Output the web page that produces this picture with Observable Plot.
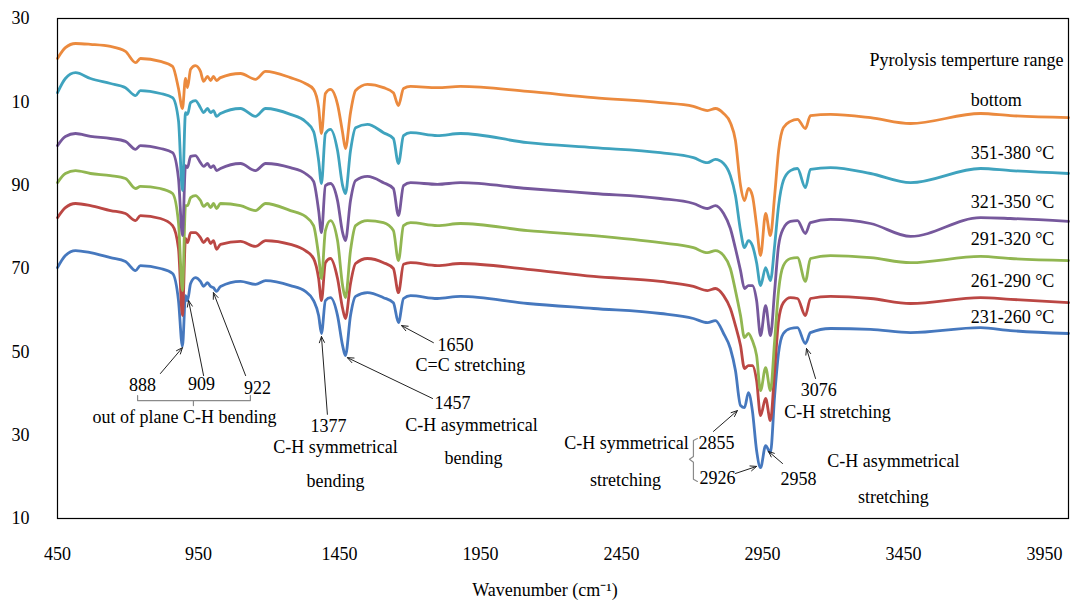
<!DOCTYPE html>
<html><head><meta charset="utf-8">
<script src="https://cdn.jsdelivr.net/npm/d3@7"></script>
<script src="https://cdn.jsdelivr.net/npm/@observablehq/plot@0.6"></script>
<style>body{margin:0;background:#fff;}</style>
</head><body><div id="chart"></div>
<script>
// Wavenumber grid (cm-1) shared by all spectra
const wavenumber = [450,478,514,567,638,691,727,744,815,858,
  879,893,904,911,922,939,957,968,982,993,
  1003,1014,1028,1099,1152,1188,1276,1329,1358,1376,
  1386,1400,1418,1443,1461,1471,1489,1507,1549,1606,
  1641,1659,1677,1702,1797,1879,2117,2351,2588,2705,
  2755,2783,2812,2836,2854,2872,2886,2900,2914,2929,
  2943,2961,2978,2993,3007,3024,3049,3074,3102,3120,
  3191,3333,3475,3723,3829,4035];

const spectrumBottom = [120.4,123.0,124.0,123.8,123.3,122.1,119.4,120.4,119.7,118.5,
  113.2,108.4,115.6,113.4,117.8,118.7,117.3,114.9,116.1,115.1,
  116.1,115.1,115.8,116.8,115.4,117.3,115.8,114.4,113.0,108.6,
  102.4,112.0,113.0,109.4,102.6,98.8,107.4,112.7,114.2,113.4,
  112.2,109.1,113.2,113.7,113.4,113.7,112.5,111.0,109.8,108.9,
  107.9,108.4,107.2,105.0,100.7,89.9,86.3,89.2,87.5,80.3,
  73.1,83.2,77.9,87.5,98.3,103.8,105.3,105.8,103.6,106.7,
  107.0,106.2,104.8,107.2,106.7,106.2];

const spectrum351_380 = [112.2,115.6,117.0,115.6,114.4,113.4,111.5,112.7,112.0,111.0,
  105.5,88.7,107.4,107.0,109.8,110.3,108.6,107.4,108.4,107.4,
  107.9,106.5,107.2,108.4,106.5,108.4,107.0,105.3,102.9,95.9,
  90.4,102.4,103.4,98.3,89.9,88.0,98.3,103.8,104.6,102.6,
  101.2,95.2,101.9,102.6,101.9,102.4,100.2,99.0,97.8,96.6,
  95.4,96.2,95.2,92.3,87.5,79.1,75.0,76.7,75.5,71.4,
  65.9,70.2,67.1,75.5,85.1,91.1,93.5,94.0,89.4,93.8,
  94.2,92.8,90.6,94.0,93.5,92.8];

const spectrum321_350 = [99.5,101.7,102.4,101.7,101.2,100.5,98.6,99.5,98.8,97.8,
  91.6,77.9,94.7,94.2,96.9,97.1,95.4,94.5,95.2,94.2,
  94.7,93.5,94.0,95.2,93.5,95.2,94.2,92.8,90.9,83.9,
  78.6,89.9,90.4,86.3,78.6,76.7,86.3,91.1,92.1,90.6,
  89.2,82.7,89.9,90.6,90.2,90.6,89.2,88.0,86.8,85.6,
  84.4,85.1,83.2,79.6,74.8,69.5,65.2,65.9,65.9,62.3,
  53.9,61.1,53.9,64.7,75.5,79.6,81.3,81.5,78.4,81.0,
  81.8,80.8,77.7,82.2,82.0,81.3];

const spectrum291_320 = [90.6,92.8,93.5,92.8,92.3,91.6,89.2,89.7,89.2,88.0,
  81.0,64.7,85.1,85.1,87.0,87.5,86.3,84.9,85.6,84.6,
  85.6,84.4,85.6,85.1,83.9,85.6,83.9,82.5,80.3,73.1,
  67.6,79.1,81.5,76.7,65.9,63.0,74.3,80.3,81.5,81.0,
  79.1,71.9,80.3,81.0,80.3,80.8,79.1,77.9,76.2,75.0,
  73.8,74.3,73.1,70.0,64.7,58.7,53.4,54.4,52.7,49.1,
  40.7,46.2,40.7,52.7,64.7,70.7,72.4,72.6,66.9,72.4,
  73.1,72.6,71.4,72.9,72.4,71.9];

const spectrum261_290 = [82.2,84.6,85.6,85.1,83.9,83.2,81.5,82.7,82.0,80.3,
  74.8,58.7,77.2,76.2,78.6,78.6,77.4,76.2,77.2,76.0,
  76.7,74.6,75.8,76.5,75.3,76.7,75.8,74.3,72.4,67.6,
  62.3,71.4,72.4,67.6,60.4,58.0,66.4,71.2,72.4,71.4,
  70.0,64.2,71.0,71.4,70.7,71.2,69.8,68.1,66.9,65.7,
  64.7,65.2,63.5,60.4,56.3,51.5,46.0,46.7,46.7,43.1,
  34.7,38.8,33.5,45.5,57.5,61.8,63.0,62.8,58.7,62.8,
  63.3,62.8,61.6,63.0,62.6,61.8];

const spectrum231_260 = [70.2,73.1,74.3,73.8,72.6,71.7,69.5,70.7,70.0,68.8,
  62.3,51.3,63.5,62.3,66.4,67.8,66.9,65.7,66.6,65.7,
  65.4,64.5,65.7,66.9,66.2,67.1,65.9,64.5,62.3,58.7,
  54.4,62.3,63.0,58.7,51.5,49.1,58.7,63.3,64.2,63.0,
  61.8,57.0,62.8,63.5,62.8,63.3,61.6,60.4,59.2,58.0,
  57.0,57.5,54.4,50.8,45.5,37.1,36.6,40.2,35.9,26.3,
  22.2,27.5,25.8,39.5,49.8,54.4,55.6,55.8,52.0,54.6,
  55.6,55.4,54.6,55.8,55.1,54.4];

// drawn bottom series first so upper spectra sit on top
const seriesNames = ["231-260 °C","261-290 °C","291-320 °C","321-350 °C","351-380 °C","bottom"];
const seriesValues = [spectrum231_260, spectrum261_290, spectrum291_320, spectrum321_350, spectrum351_380, spectrumBottom];
const seriesColors = ["#4678BE","#BB4744","#91B651","#76589C","#3FA3BE","#EB8A3E"];

const xTicks = [450,950,1450,1950,2450,2950,3450,3950];
const yTicks = [10,30,50,70,90,110,130];
const yTickLabels = ["10","30","50","70","90","10","30"];

// legend texts (right side)
const legendTitle = "Pyrolysis temperture range";
const legendLabels = ["bottom","351-380 °C","321-350 °C","291-320 °C","261-290 °C","231-260 °C"];
const legendY = [110.3,97.6,85.8,77.0,66.9,58.2];

// peak annotations
const noteText = ["888","909","922","out of plane C-H bending","1377","C-H symmetrical","bending",
  "1457","C-H asymmetrical","bending","1650","C=C stretching","C-H symmetrical","stretching",
  "2855","2926","2958","3076","C-H stretching","C-H asymmetrical","stretching"];
const noteX = [751,961,1159,900,1411,1436,1436,1851,1918,1925,1861,1914,2468,2464,2787,2790,3078,3149,3216,3414,3414];
const noteY = [41.9,42.2,41.2,34.2,32.1,27.0,18.9,37.6,32.5,24.4,51.5,46.7,28.0,19.1,28.0,19.6,19.4,40.7,35.4,23.7,15.0];

// arrows: from label to peak
const arrowX1 = [815,968,1117,1407,1780,1783,2776,2854,3021,3138];
const arrowY1 = [44.8,44.3,44.3,35.0,38.8,52.2,30.9,20.8,23.2,43.6];
const arrowX2 = [893,915,1003,1386,1478,1670,2861,2929,2971,3106];
const arrowY2 = [51.0,62.3,64.2,53.7,48.6,56.3,35.9,22.5,26.1,50.8];

// brackets
const bracketId = ["a","a","a","a","b","b","c","c","c","c","c","c","c"];
const bracketX = [734,734,1134,1134,932,932,2719,2705,2705,2691,2705,2705,2719];
const bracketY = [39.5,38.3,38.3,39.5,38.3,37.1,29.2,28.7,24.9,24.2,23.5,19.4,18.9];

const rows = [];
seriesValues.forEach((vals, k) => vals.forEach((v, i) => rows.push({series: seriesNames[k], wn: wavenumber[i], t: v})));
const notes = noteText.map((t, i) => ({t, x: noteX[i], y: noteY[i]}));
const arrows = arrowX1.map((x1, i) => ({x1, y1: arrowY1[i], x2: arrowX2[i], y2: arrowY2[i]}));
const brackets = bracketX.map((x, i) => ({id: bracketId[i], x, y: bracketY[i]}));
const legend = legendLabels.map((t, i) => ({t, y: legendY[i]}));

const font = "'Liberation Serif','Times New Roman',serif";
const fs = 18;
const chart = Plot.plot({
  width: 1075, height: 601,
  marginLeft: 57, marginRight: 7, marginTop: 18, marginBottom: 83,
  style: {fontFamily: font, fontSize: fs + "px", background: "white", color: "black"},
  x: {domain: [450, 4035], ticks: xTicks, tickSize: 0, tickPadding: 29, label: null, tickFormat: d => String(d)},
  y: {domain: [10, 130], ticks: yTicks, tickSize: 0, tickPadding: 28, label: null,
      tickFormat: d => yTickLabels[yTicks.indexOf(d)]},
  color: {domain: seriesNames, range: seriesColors},
  marks: [
    Plot.line(rows, {x: "wn", y: "t", z: "series", stroke: "series", strokeWidth: 2.8, curve: "monotone-x"}),
    Plot.frame({stroke: "black", strokeWidth: 1.2}),
    Plot.line(brackets, {x: "x", y: "y", z: "id", stroke: "#8a8a8a", strokeWidth: 1.2}),
    Plot.arrow(arrows, {x1: "x1", y1: "y1", x2: "x2", y2: "y2", stroke: "#222", strokeWidth: 1, headLength: 10, headAngle: 45}),
    Plot.text(notes, {x: "x", y: "y", text: "t", fontSize: fs, fill: "black"}),
    Plot.text([legendTitle], {x: 4017, y: 119.9, text: d => d, textAnchor: "end", fontSize: fs, fill: "black"}),
    Plot.text(legend, {x: 3688, y: "y", text: "t", textAnchor: "start", fontSize: fs, fill: "black"}),
    Plot.text(["Wavenumber (cm⁻¹)"], {frameAnchor: "bottom", lineAnchor: "middle", dx: -18, dy: 72, text: d => d, fontSize: fs, fill: "black"})
  ]
});
document.getElementById("chart").appendChild(chart);
</script>
</body></html>
